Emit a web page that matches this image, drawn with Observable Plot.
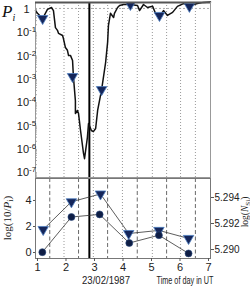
<!DOCTYPE html>
<html><head><meta charset="utf-8">
<script src="https://cdn.jsdelivr.net/npm/d3@7"></script>
<script src="https://cdn.jsdelivr.net/npm/@observablehq/plot@0.6"></script>
<style>
body{margin:0;background:#fff;}
#wrap{position:relative;width:250px;height:286px;overflow:hidden;background:#fff;}
#wrap svg{position:absolute;left:0;}
</style></head><body><div id="wrap"></div>
<script>
// ---- data ----
const lineTime = [0.93,1.00,1.18,1.35,1.49,1.56,1.63,1.70,1.74,1.88,1.91,1.98,2.05,2.09,2.16,2.23,2.26,2.33,2.33,2.40,2.44,2.51,2.61,2.65,2.75,2.79,2.82,2.89,2.96,3.04,3.11,3.25,3.39,3.46,3.49,3.56,3.67,3.70,3.81,3.88,4.02,4.26,4.51,4.58,4.72,4.86,5.04,5.14,5.28,5.42,5.56,5.74,5.91,6.12,6.37,6.61,6.82,7.07];
const lineP = [0.81,0.62,0.37,0.91,1.10,0.81,0.15,0.115,0.085,0.069,0.051,0.021,0.016,0.0095,0.0095,0.0059,0.0012,1.1e-4,3.1e-5,4.2e-5,3.1e-5,5.8e-6,6.6e-7,3.6e-7,2.9e-6,1.15e-5,9.5e-6,5.8e-6,5.2e-6,7.1e-6,4.2e-5,3.3e-4,0.0048,0.035,0.19,0.62,0.41,0.62,1.10,1.35,1.48,1.48,1.35,0.81,1.48,1.10,1.23,0.62,0.46,0.81,0.50,0.68,1.23,1.62,1.35,1.62,1.82,1.9];
const triTopTime = [1.18,2.23,3.25,4.26,5.28,6.33];
const triTopP = [0.37,0.0012,3.3e-4,1.48,0.50,1.23];

const triTime = [1.20,2.19,3.21,4.20,5.26,6.30];
const logTenOverP = [1.77,3.90,4.50,1.46,1.70,1.08];
const circTime = [1.17,2.19,3.18,4.22,5.26,6.30];
const logNSi = [5.2898,5.2925,5.2927,5.2905,5.2911,5.2897];

const hourTicks = [1,2,3,4,5,6,7];
const pTicks = [1,1e-1,1e-2,1e-3,1e-4,1e-5,1e-6,1e-7];
const pTickLabels = ["1","10^-1","10^-2","10^-3","10^-4","10^-5","10^-6","10^-7"];
const leftTicks = [0,2,4];
const rightTicks = [5.290,5.292,5.294];
const topGrid = [1.43,1.93,2.44,2.96,3.46,3.98,4.50,5.03,5.53,6.02,6.54];
const botDashed = [1.43,2.44,3.46,4.50,5.53,6.54];
const botDotted = [1.93,2.96,3.98,5.03,6.02];
const eventTime = [2.82];

// ---- layout ----
const xDomain = [0.93,7.07];
const sans = "'Liberation Sans', Arial, sans-serif";
const wrap = document.getElementById("wrap");
const navy = "#15265a", edge = "#4f7fc0";

const lineData = lineTime.map((t,i)=>({t, p: lineP[i]}));
const triTop = triTopTime.map((t,i)=>({t, p: triTopP[i]}));
const tri = triTime.map((t,i)=>({t, v: logTenOverP[i]}));
const circ = circTime.map((t,i)=>({t, v: logNSi[i]}));
const minor = [];
for (let e=-8;e<=0;e++) for (let m=2;m<=9;m++){const v=m*Math.pow(10,e); if(v>5.6e-8&&v<1.8) minor.push(v);}

const topPlot = Plot.plot({
  width:250, height:179, marginLeft:35, marginRight:40, marginTop:2, marginBottom:2,
  x:{domain:xDomain, axis:null},
  y:{type:"log", domain:[5.6e-8,1.8], axis:null},
  style:{background:"transparent", fontFamily:sans, fontSize:"11px", color:"#222"},
  marks:[
    Plot.ruleX(topGrid, {stroke:"#999", strokeWidth:1, strokeDasharray:"1,2"}),
    Plot.ruleY([1], {stroke:"#aaa", strokeDasharray:"2,2"}),
    Plot.ruleX(eventTime, {stroke:"#000", strokeWidth:2}),
    Plot.axisY({anchor:"left", ticks:minor, tickSize:2, dx:2, tickFormat:()=>"", label:null, stroke:"#aaa"}),
    Plot.line(lineData, {x:"t", y:"p", stroke:"#111", strokeWidth:1.5}),
    Plot.dot(triTop, {x:"t", y:"p", symbol:"triangle", rotate:180, r:3.9, fill:navy, stroke:edge, strokeWidth:0.8, clip:true}),
    Plot.frame({stroke:"#999"}),
    Plot.ruleY([1.8], {stroke:"#555", strokeWidth:2}),
    Plot.text(pTicks, {x:()=>xDomain[0], y:d=>d, text:(d,i)=>pTickLabels[i], dx:-9, dy:1, textAnchor:"middle", fontSize:11, fill:"#222"})
  ]
});
topPlot.style.top = "0px";
d3.select(topPlot).selectAll("text").each(function(){
  const t = this.textContent;
  if (t.includes("^")) {
    const [b,e] = t.split("^");
    const s = d3.select(this); s.text("");
    s.append("tspan").text(b);
    s.append("tspan").attr("dy","-0.5em").attr("font-size","8px").text(e);
  }
});
wrap.appendChild(topPlot);

const botPlot = Plot.plot({
  width:250, height:109, marginLeft:35, marginRight:40, marginTop:1, marginBottom:28,
  x:{domain:xDomain},
  y:{domain:[-0.46,5.69]},
  style:{background:"transparent", fontFamily:sans, fontSize:"11px", color:"#222"},
  marks:[
    Plot.ruleX(botDashed, {stroke:"#444", strokeWidth:0.8, strokeDasharray:"4,2.5"}),
    Plot.ruleX(botDotted, {stroke:"#999", strokeWidth:1, strokeDasharray:"1,2"}),
    Plot.ruleX(eventTime, {stroke:"#000", strokeWidth:2}),
    Plot.frame({stroke:"#777"}),
    Plot.axisX({ticks:hourTicks, tickSize:3, tickPadding:2, tickFormat:d=>String(d), label:null, stroke:"#555"}),
    Plot.axisY({ticks:leftTicks, tickSize:2, tickPadding:2, tickFormat:d=>String(d), label:null, stroke:"#555"}),
    Plot.line(tri, {x:"t", y:"v", stroke:"#333", strokeWidth:0.8}),
    Plot.dot(tri, {x:"t", y:"v", symbol:"triangle", rotate:180, r:3.9, fill:navy, stroke:edge, strokeWidth:0.8})
  ]
});
botPlot.style.top = "177px";
wrap.appendChild(botPlot);

const rightPlot = Plot.plot({
  width:250, height:109, marginLeft:35, marginRight:40, marginTop:1, marginBottom:28,
  x:{domain:xDomain, axis:null},
  y:{domain:[5.28931,5.29546], axis:null},
  style:{background:"transparent", fontFamily:sans, fontSize:"10px", color:"#222"},
  marks:[
    Plot.axisY({anchor:"right", ticks:rightTicks, tickSize:3, tickPadding:1, tickFormat:d=>d.toFixed(3), label:null, stroke:"#555"}),
    Plot.line(circ, {x:"t", y:"v", stroke:"#333", strokeWidth:0.8}),
    Plot.dot(circ, {x:"t", y:"v", r:3.5, fill:"#0f1e45", stroke:"#2a4a80", strokeWidth:0.6})
  ]
});
rightPlot.style.top = "177px";
wrap.appendChild(rightPlot);

// ---- titles and axis labels ----
const lab = d3.create("svg").attr("width",250).attr("height",286).style("top","0px").style("pointer-events","none");
const serif = "'Liberation Serif', 'Times New Roman', serif";
const pT = lab.append("text").attr("x",2).attr("y",17).attr("font-family",serif).attr("font-size",17).attr("font-style","italic").attr("fill","#111");
pT.append("tspan").text("P");
pT.append("tspan").attr("font-size",10).attr("dy",4).text("i");

const yl = lab.append("text").attr("transform","translate(11,218) rotate(-90)").attr("text-anchor","middle").attr("font-family",serif).attr("font-size",11).attr("fill","#222");
yl.append("tspan").text("log(10/");
yl.append("tspan").attr("font-style","italic").text("P");
yl.append("tspan").attr("font-size",8).attr("dy",2).text("i");
yl.append("tspan").attr("dy",-2).text(")");

const yr = lab.append("text").attr("transform","translate(248,212) rotate(-90)").attr("text-anchor","middle").attr("font-family",serif).attr("font-size",9.5).attr("fill","#222");
yr.append("tspan").text("log(");
yr.append("tspan").attr("font-style","italic").text("N");
yr.append("tspan").attr("font-size",7).attr("dy",1.5).text("Si");
yr.append("tspan").attr("dy",-1.5).text(")");

lab.append("text").attr("x",106).attr("y",284).attr("text-anchor","middle").attr("font-family",sans).attr("font-size",10.5).attr("textLength",48).attr("lengthAdjust","spacingAndGlyphs").attr("fill","#222").text("23/02/1987");
lab.append("text").attr("x",185).attr("y",284).attr("text-anchor","middle").attr("font-family",sans).attr("font-size",10.5).attr("textLength",57).attr("lengthAdjust","spacingAndGlyphs").attr("fill","#222").text("Time of day in UT");
wrap.appendChild(lab.node());
</script>
</body></html>
